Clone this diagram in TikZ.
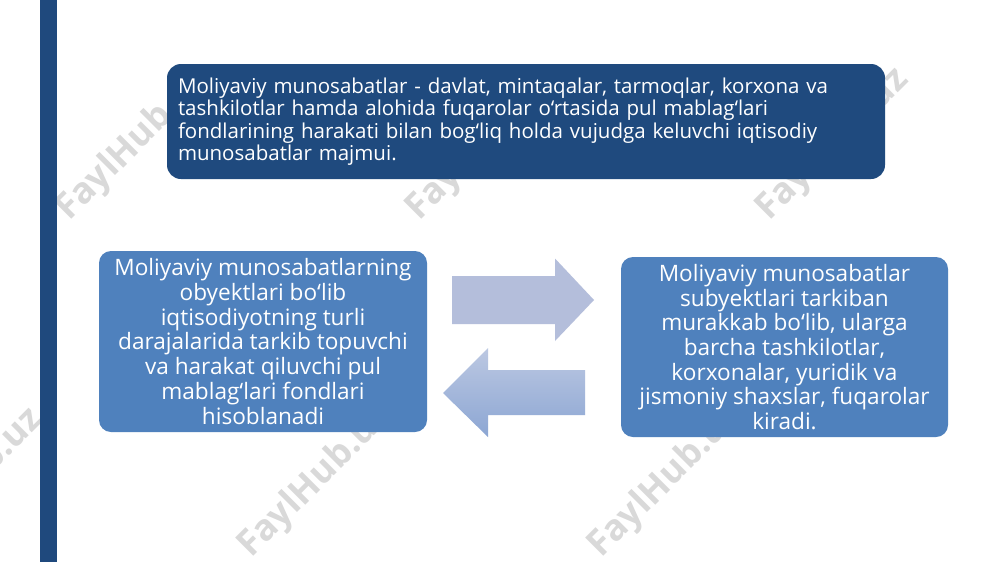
\documentclass[tikz,border=0pt]{standalone}
\usepackage{fontspec}
\setmainfont{Open Sans}
\definecolor{barblue}{HTML}{1F497D}
\definecolor{topblue}{HTML}{1F4A7E}
\definecolor{sideblue}{HTML}{4F81BD}
\definecolor{arrowA}{HTML}{B4BEDB}
\definecolor{arrowTop}{HTML}{BCC8E2}
\definecolor{arrowBot}{HTML}{8CA6D3}
\definecolor{wmgray}{HTML}{D9D9D9}
\tikzset{
  wm/.style={text=wmgray, font=\bfseries\fontsize{36}{40}\selectfont, rotate=45, inner sep=0},
  topbox/.style={fill=topblue, rounded corners=14pt, text=white, align=left,
    font=\fontsize{20.5}{22.4}\selectfont, inner sep=0},
  sidebox/.style={fill=sideblue, rounded corners=12pt, text=white, align=center,
    font=\fontsize{22.6}{24.7}\selectfont, inner sep=0},
}
\begin{document}
\begin{tikzpicture}[x=1pt,y=-1pt]
\useasboundingbox (0,0) rectangle (1000,562);
\fill[white] (0,0) rectangle (1000,562);
% watermarks
\node[wm] (w1) at (133,145) {FaylHub.uz};
\node[wm] (w2) at (483,145) {FaylHub.uz};
\node[wm] (w3) at (833,145) {FaylHub.uz};
\node[wm] (w4) at (-33,485) {FaylHub.uz};
\node[wm] (w5) at (315,482) {FaylHub.uz};
\node[wm] (w6) at (665,482) {FaylHub.uz};
% left bar
\fill[barblue] (39.5,0) rectangle (57,562);
% top box
\node[topbox, minimum width=718pt, minimum height=115pt, text width=696pt] (top) at (526,121.5)
{Moliyaviy munosabatlar - davlat, mintaqalar, tarmoqlar, korxona va\\
tashkilotlar hamda alohida fuqarolar o‘rtasida pul mablag‘lari\\
fondlarining harakati bilan bog‘liq holda vujudga keluvchi iqtisodiy\\
munosabatlar majmui.};
% side boxes
\node[sidebox, minimum width=328pt, minimum height=181pt] (left) at (263,341.5)
{Moliyaviy munosabatlarning\\obyektlari bo‘lib\\iqtisodiyotning turli\\darajalarida tarkib topuvchi\\va harakat qiluvchi pul\\mablag‘lari fondlari\\hisoblanadi};
\node[sidebox, minimum width=327pt, minimum height=180pt] (right) at (784.5,347)
{Moliyaviy munosabatlar\\subyektlari tarkiban\\murakkab bo‘lib, ularga\\barcha tashkilotlar,\\korxonalar, yuridik va\\jismoniy shaxslar, fuqarolar\\kiradi.};
% arrows
\fill[arrowA] (452,276) -- (555,276) -- (555,258.5) -- (594,300) -- (555,341) -- (555,324) -- (452,324) -- cycle;
\shade[top color=arrowTop, bottom color=arrowBot] (585,370) -- (488,370) -- (488,348) -- (443,393) -- (488,437) -- (488,415) -- (585,415) -- cycle;
\end{tikzpicture}
\end{document}
